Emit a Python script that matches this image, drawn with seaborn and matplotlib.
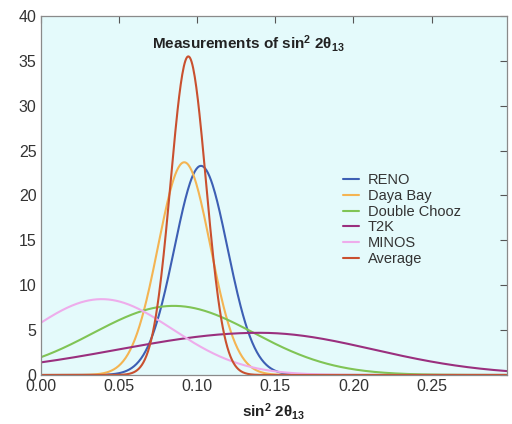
import numpy as np
import pandas as pd
import matplotlib
matplotlib.use("Agg")
import matplotlib.pyplot as plt
import seaborn as sns

experiments = ["RENO", "Daya Bay", "Double Chooz", "T2K", "MINOS", "Average"]
peak_height = [23.3, 23.7, 7.7, 4.7, 8.45, 35.5]
best_fit = [0.1025, 0.0918, 0.085, 0.140, 0.039, 0.0944]
sigma_low = [0.0170, 0.0167, 0.0515, 0.090, 0.0450, 0.0113]
sigma_high = [0.0170, 0.0167, 0.0515, 0.0725, 0.0450, 0.0113]
colors = ["#3d5fb4", "#f4b452", "#80c455", "#9a2f7e", "#eeaceb", "#c9502f"]

x_ticks = [0.00, 0.05, 0.10, 0.15, 0.20, 0.25]
y_ticks = [0, 5, 10, 15, 20, 25, 30, 35, 40]

sns.set_theme(style="white")
plt.rcParams["font.family"] = ["Liberation Sans", "DejaVu Sans"]
plt.rcParams["mathtext.fontset"] = "custom"
plt.rcParams["mathtext.rm"] = "Liberation Sans"
plt.rcParams["mathtext.bf"] = "Liberation Sans:bold"
plt.rcParams["mathtext.it"] = "Liberation Sans:italic"

grid = np.linspace(0, 0.298, 600)
rows = []
for name, h, m, sl, sh in zip(experiments, peak_height, best_fit, sigma_low, sigma_high):
    s = np.where(grid < m, sl, sh)
    y = h * np.exp(-0.5 * ((grid - m) / s) ** 2)
    rows.append(pd.DataFrame({"x": grid, "density": y, "experiment": name}))
df = pd.concat(rows, ignore_index=True)

fig = plt.figure(figsize=(5.12, 4.24), dpi=100)
ax = fig.add_axes([0.0795, 0.1156, 0.9101, 0.8467])
ax.set_facecolor("#e4fafb")

sns.lineplot(data=df, x="x", y="density", hue="experiment", hue_order=experiments,
             palette=dict(zip(experiments, colors)), linewidth=1.5, ax=ax)

ax.set_xlim(0, 0.298)
ax.set_ylim(0, 40)
ax.set_xticks(x_ticks)
ax.set_xticklabels([f"{t:.2f}" for t in x_ticks])
ax.set_yticks(y_ticks)
ax.tick_params(direction="in", top=True, right=True, length=5, width=0.8,
               color="#555555", labelsize=11.5, labelcolor="#333333", pad=3,
               labeltop=False, labelright=False)
for sp in ax.spines.values():
    sp.set_color("#8a8a8a")
    sp.set_linewidth(0.9)

ax.set_xlabel(r"sin$^{\mathbf{2}}$ 2θ$_{\mathbf{13}}$", fontsize=11, fontweight="bold",
              color="#222222", labelpad=5)
ax.set_ylabel("")
ax.text(0.445, 0.922, r"Measurements of sin$^{\mathbf{2}}$ 2θ$_{\mathbf{13}}$",
        transform=ax.transAxes, ha="center", va="center", fontsize=11,
        fontweight="bold", color="#222222")

leg = ax.legend(loc="upper left", bbox_to_anchor=(0.649, 0.562), frameon=False,
                fontsize=10.5, handlelength=1.1, handletextpad=0.6,
                labelspacing=0.12, borderpad=0, borderaxespad=0)
for t in leg.get_texts():
    t.set_color("#333333")

fig.savefig("out.png", dpi=100)
